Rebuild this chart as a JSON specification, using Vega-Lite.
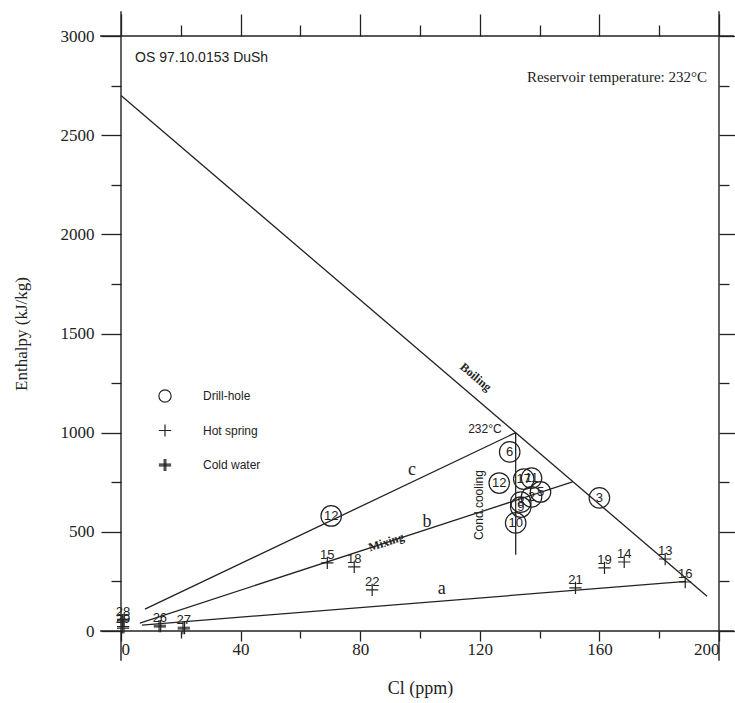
{
  "$schema": "https://vega.github.io/schema/vega-lite/v6.json",
  "width": 598,
  "height": 595,
  "autosize": {"type": "none"},
  "padding": {"left": 121, "top": 36, "right": 16, "bottom": 72},
  "background": "white",
  "config": {
    "view": {"stroke": null},
    "axis": {"grid": false, "domain": false, "tickColor": "#222", "tickWidth": 1.3, "labelColor": "#222", "titleColor": "#222", "labelFont": "Liberation Serif", "labelFontSize": 17, "titleFont": "Liberation Serif", "titleFontWeight": "normal", "format": "d"},
    "legend": {"orient": "none", "legendX": 37, "legendY": 353, "padding": 0, "symbolSize": 150, "symbolStrokeWidth": 1.2, "labelFont": "Liberation Sans", "labelFontSize": 12, "labelColor": "#222", "labelOffset": 31, "rowPadding": 16.5}
  },
  "datasets": {
    "lines": [
      {"line": "Boiling", "Cl": 0, "H": 2700},
      {"line": "Boiling", "Cl": 196, "H": 175},
      {"line": "c", "Cl": 8, "H": 110},
      {"line": "c", "Cl": 132, "H": 1000},
      {"line": "b", "Cl": 6.3, "H": 40},
      {"line": "b", "Cl": 151, "H": 752},
      {"line": "a", "Cl": 7, "H": 30},
      {"line": "a", "Cl": 189, "H": 250},
      {"line": "Cond.cooling", "Cl": 132, "H": 1000},
      {"line": "Cond.cooling", "Cl": 132.01, "H": 385}
    ],
    "points": [
      {"id": "12", "type": "Drill-hole", "Cl": 70.3, "H": 580},
      {"id": "6", "type": "Drill-hole", "Cl": 130, "H": 903},
      {"id": "12", "type": "Drill-hole", "Cl": 126.5, "H": 746},
      {"id": "17", "type": "Drill-hole", "Cl": 134.7, "H": 766},
      {"id": "11", "type": "Drill-hole", "Cl": 137.3, "H": 771},
      {"id": "5", "type": "Drill-hole", "Cl": 140.3, "H": 701},
      {"id": "2", "type": "Drill-hole", "Cl": 137.3, "H": 676},
      {"id": "8", "type": "Drill-hole", "Cl": 133.7, "H": 650},
      {"id": "9", "type": "Drill-hole", "Cl": 133.7, "H": 625},
      {"id": "10", "type": "Drill-hole", "Cl": 132, "H": 545},
      {"id": "3", "type": "Drill-hole", "Cl": 160, "H": 671},
      {"id": "15", "type": "Hot spring", "Cl": 69, "H": 343},
      {"id": "18", "type": "Hot spring", "Cl": 78, "H": 323},
      {"id": "22", "type": "Hot spring", "Cl": 84, "H": 207},
      {"id": "21", "type": "Hot spring", "Cl": 152, "H": 217},
      {"id": "19", "type": "Hot spring", "Cl": 161.7, "H": 318},
      {"id": "14", "type": "Hot spring", "Cl": 168.3, "H": 348},
      {"id": "13", "type": "Hot spring", "Cl": 182, "H": 363},
      {"id": "16", "type": "Hot spring", "Cl": 188.7, "H": 247},
      {"id": "28", "type": "Cold water", "Cl": 0.7, "H": 55},
      {"id": "29", "type": "Cold water", "Cl": 0.7, "H": 18},
      {"id": "26", "type": "Cold water", "Cl": 13, "H": 25},
      {"id": "27", "type": "Cold water", "Cl": 21, "H": 15}
    ]
  },
  "resolve": {"axis": {"x": "independent", "y": "independent"}},
  "layer": [
    {
      "data": {"name": "lines"},
      "mark": {"type": "line", "color": "#222", "strokeWidth": 1.3},
      "encoding": {
        "x": {"field": "Cl", "type": "quantitative", "scale": {"domain": [0, 200], "nice": false, "zero": false},
          "axis": {"orient": "bottom", "values": [0, 40, 80, 120, 160, 200], "tickSize": 10, "labelPadding": 0, "title": "Cl (ppm)", "titleFontSize": 18, "titlePadding": 22}},
        "y": {"field": "H", "type": "quantitative", "scale": {"domain": [0, 3000], "nice": false, "zero": false},
          "axis": {"orient": "left", "values": [0, 500, 1000, 1500, 2000, 2500, 3000], "tickSize": 20, "labelPadding": 7, "title": "Enthalpy (kJ/kg)", "titleFontSize": 17, "titlePadding": 30}},
        "detail": {"field": "line"}
      }
    },
    {
      "data": {"values": [{}]},
      "mark": {"type": "rule", "color": "#222", "strokeWidth": 1.4},
      "encoding": {
        "x": {"datum": 0, "type": "quantitative", "axis": {"orient": "bottom", "values": [20, 60, 100, 140, 180], "tickSize": 7, "labels": false, "title": null}},
        "y": {"datum": -150, "type": "quantitative", "axis": {"orient": "left", "values": [250, 750, 1250, 1750, 2250, 2750], "tickSize": 10, "labels": false, "title": null}},
        "y2": {"datum": 3125}
      }
    },
    {
      "data": {"values": [{}]},
      "mark": {"type": "rule", "color": "#222", "strokeWidth": 1.4},
      "encoding": {
        "x": {"datum": 200, "type": "quantitative", "axis": {"orient": "top", "values": [0, 40, 80, 120, 160, 200], "tickSize": 22, "labels": false, "title": null}},
        "y": {"datum": -150, "type": "quantitative", "axis": {"orient": "right", "values": [0, 500, 1000, 1500, 2000, 2500, 3000], "tickSize": 16, "labels": false, "title": null}},
        "y2": {"datum": 3125}
      }
    },
    {
      "data": {"values": [{}]},
      "mark": {"type": "rule", "color": "#222", "strokeWidth": 1.4},
      "encoding": {
        "x": {"datum": -7, "type": "quantitative", "axis": {"orient": "top", "values": [20, 60, 100, 140, 180], "tickSize": 11, "labels": false, "title": null}},
        "x2": {"datum": 205},
        "y": {"datum": 0, "type": "quantitative", "axis": {"orient": "right", "values": [250, 750, 1250, 1750, 2250, 2750], "tickSize": 10, "labels": false, "title": null}}
      }
    },
    {
      "data": {"values": [{}]},
      "mark": {"type": "rule", "color": "#222", "strokeWidth": 1.4},
      "encoding": {
        "x": {"datum": -7, "type": "quantitative", "axis": null},
        "x2": {"datum": 205},
        "y": {"datum": 3000, "type": "quantitative", "axis": null}
      }
    },
    {
      "data": {"name": "points"},
      "mark": {"type": "point", "filled": false, "color": "#222", "strokeWidth": 1.2, "opacity": 1},
      "encoding": {
        "x": {"field": "Cl", "type": "quantitative", "axis": null},
        "y": {"field": "H", "type": "quantitative", "axis": null},
        "shape": {"field": "type", "type": "nominal", "title": null,
          "scale": {"domain": ["Drill-hole", "Hot spring", "Cold water"], "range": ["circle", "M-1,0H1M0,-1V1", "M-1,-0.13H1M-1,0.13H1M-0.13,-1V1M0.13,-1V1"]}},
        "size": {"condition": {"test": "datum.type === 'Drill-hole'", "value": 420}, "value": 150}
      }
    },
    {
      "data": {"name": "points"},
      "transform": [{"filter": "datum.type === 'Drill-hole'"}],
      "mark": {"type": "text", "font": "Liberation Sans", "fontSize": 13, "color": "#222", "align": "center", "baseline": "middle"},
      "encoding": {
        "x": {"field": "Cl", "type": "quantitative", "axis": null},
        "y": {"field": "H", "type": "quantitative", "axis": null},
        "text": {"field": "id"}
      }
    },
    {
      "data": {"name": "points"},
      "transform": [{"filter": "datum.type !== 'Drill-hole'"}],
      "mark": {"type": "text", "font": "Liberation Sans", "fontSize": 13, "color": "#222", "align": "center", "baseline": "alphabetic", "dy": -4},
      "encoding": {
        "x": {"field": "Cl", "type": "quantitative", "axis": null},
        "y": {"field": "H", "type": "quantitative", "axis": null},
        "text": {"field": "id"}
      }
    },
    {
      "data": {"values": [{"Cl": 4.7, "H": 2890, "label": "OS 97.10.0153 DuSh"}]},
      "mark": {"type": "text", "font": "Liberation Sans", "fontSize": 14, "color": "#222", "align": "left", "baseline": "middle"},
      "encoding": {"x": {"field": "Cl", "type": "quantitative", "axis": null}, "y": {"field": "H", "type": "quantitative", "axis": null}, "text": {"field": "label"}}
    },
    {
      "data": {"values": [{"Cl": 196, "H": 2794, "label": "Reservoir temperature: 232°C"}]},
      "mark": {"type": "text", "font": "Liberation Serif", "fontSize": 15, "color": "#222", "align": "right", "baseline": "middle"},
      "encoding": {"x": {"field": "Cl", "type": "quantitative", "axis": null}, "y": {"field": "H", "type": "quantitative", "axis": null}, "text": {"field": "label"}}
    },
    {
      "data": {"values": [{"Cl": 118.7, "H": 1281, "label": "Boiling"}]},
      "mark": {"type": "text", "font": "Liberation Serif", "fontSize": 12, "fontWeight": "bold", "color": "#222", "align": "center", "baseline": "middle", "angle": 40},
      "encoding": {"x": {"field": "Cl", "type": "quantitative", "axis": null}, "y": {"field": "H", "type": "quantitative", "axis": null}, "text": {"field": "label"}}
    },
    {
      "data": {"values": [{"Cl": 88.7, "H": 449, "label": "Mixing"}]},
      "mark": {"type": "text", "font": "Liberation Serif", "fontSize": 12, "fontWeight": "bold", "color": "#222", "align": "center", "baseline": "middle", "angle": -18},
      "encoding": {"x": {"field": "Cl", "type": "quantitative", "axis": null}, "y": {"field": "H", "type": "quantitative", "axis": null}, "text": {"field": "label"}}
    },
    {
      "data": {"values": [{"Cl": 119.7, "H": 635, "label": "Cond.cooling"}]},
      "mark": {"type": "text", "font": "Liberation Sans", "fontSize": 12, "color": "#222", "align": "center", "baseline": "middle", "angle": 270},
      "encoding": {"x": {"field": "Cl", "type": "quantitative", "axis": null}, "y": {"field": "H", "type": "quantitative", "axis": null}, "text": {"field": "label"}}
    },
    {
      "data": {"values": [{"Cl": 121.7, "H": 1019, "label": "232°C"}]},
      "mark": {"type": "text", "font": "Liberation Sans", "fontSize": 12, "color": "#222", "align": "center", "baseline": "middle"},
      "encoding": {"x": {"field": "Cl", "type": "quantitative", "axis": null}, "y": {"field": "H", "type": "quantitative", "axis": null}, "text": {"field": "label"}}
    },
    {
      "data": {"values": [{"Cl": 97.3, "H": 812, "label": "c"}, {"Cl": 102.3, "H": 550, "label": "b"}, {"Cl": 107.3, "H": 212, "label": "a"}]},
      "mark": {"type": "text", "font": "Liberation Serif", "fontSize": 18, "color": "#222", "align": "center", "baseline": "middle"},
      "encoding": {"x": {"field": "Cl", "type": "quantitative", "axis": null}, "y": {"field": "H", "type": "quantitative", "axis": null}, "text": {"field": "label"}}
    }
  ]
}
